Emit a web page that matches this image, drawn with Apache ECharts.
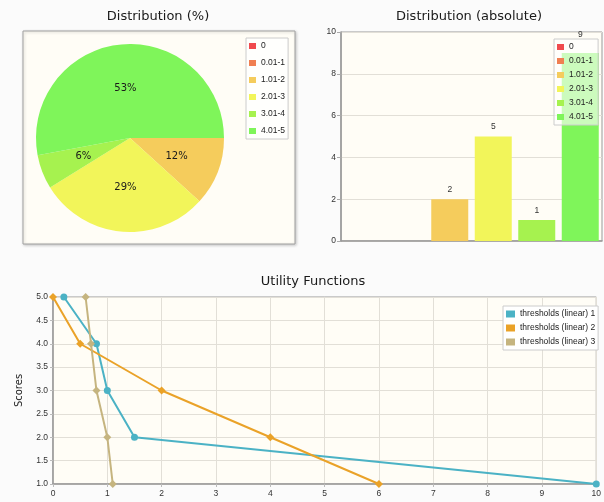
<!DOCTYPE html>
<html>
<head>
<meta charset="utf-8">
<script src="https://cdn.jsdelivr.net/npm/echarts@6/dist/echarts.min.js"></script>
<style>
html,body{margin:0;padding:0;background:#fbfbfb;}
#c{width:604px;height:502px;}
</style>
</head>
<body>
<div id="c"></div>
<script>
// ---- data ----
const categories = ['0', '0.01-1', '1.01-2', '2.01-3', '3.01-4', '4.01-5'];
const counts = [0, 0, 2, 5, 1, 9];
const yTicksAbs = [0, 2, 4, 6, 8, 10];
const utilityNames = ['thresholds (linear) 1', 'thresholds (linear) 2', 'thresholds (linear) 3'];
const utility1 = [[0.2, 5], [0.8, 4], [1.0, 3], [1.5, 2], [10, 1]];
const utility2 = [[0, 5], [0.5, 4], [2, 3], [4, 2], [6, 1]];
const utility3 = [[0.6, 5], [0.7, 4], [0.8, 3], [1.0, 2], [1.1, 1]];
const xTicksUtil = [0, 1, 2, 3, 4, 5, 6, 7, 8, 9, 10];
const yTicksUtil = [1.0, 1.5, 2.0, 2.5, 3.0, 3.5, 4.0, 4.5, 5.0];

// ---- styles ----
const palette = ['#f04a4e', '#f07f52', '#f5cc5c', '#f2f55a', '#a6f24f', '#7ff55a'];
const lineColors = ['#4bb2c5', '#eaa228', '#c5b47f'];
const lineSymbols = ['circle', 'diamond', 'diamond'];
const FONT = 'Liberation Sans, DejaVu Sans, sans-serif';
const TFONT = 'DejaVu Sans, sans-serif';
const gridBg = '#fffdf6';
const tickColor = '#333';

const chart = echarts.init(document.getElementById('c'), null, {renderer: 'canvas'});

const pieData = categories.map((name, i) => ({name, value: counts[i], itemStyle: {color: palette[i]}}));

const barSeries = categories.map((name, i) => ({
  type: 'bar',
  name,
  xAxisIndex: 0, yAxisIndex: 0,
  data: counts.map((v, j) => (j === i ? v : '-')),
  barWidth: 37,
  barGap: '-100%',
  itemStyle: {color: palette[i]},
  label: {
    show: true, position: 'top', distance: i === 5 ? 14 : 5,
    fontSize: 8.5, fontFamily: FONT, color: '#333',
    formatter: p => (p.value ? String(p.value) : '')
  },
  z: 2
}));

const utilData = [utility1, utility2, utility3];
const lineSeries = utilData.map((d, i) => ({
  type: 'line',
  name: utilityNames[i],
  xAxisIndex: 1, yAxisIndex: 1,
  data: d,
  symbol: lineSymbols[i],
  symbolSize: i === 0 ? 7 : 8,
  showAllSymbol: true,
  lineStyle: {width: 2, color: lineColors[i]},
  itemStyle: {color: lineColors[i]},
  clip: true,
  z: 3
}));

const legendCommon = {
  orient: 'vertical',
  icon: 'rect',
  backgroundColor: 'rgba(255,255,255,0.75)',
  borderColor: '#cccccc',
  borderWidth: 1,
  itemGap: 7,
  itemWidth: 7,
  itemHeight: 6,
  textStyle: {fontSize: 8.5, fontFamily: FONT, color: '#222', lineHeight: 10},
  selectedMode: false
};

const option = {
  animation: false,
  backgroundColor: '#fbfbfb',
  title: [
    {text: 'Distribution (%)', left: 158, top: 10, textAlign: 'center', padding: 0,
      textStyle: {fontSize: 13, fontWeight: 'normal', fontFamily: TFONT, color: '#1a1a1a'}},
    {text: 'Distribution (absolute)', left: 469, top: 10, textAlign: 'center', padding: 0,
      textStyle: {fontSize: 13, fontWeight: 'normal', fontFamily: TFONT, color: '#1a1a1a'}},
    {text: 'Utility Functions', left: 313, top: 275, textAlign: 'center', padding: 0,
      textStyle: {fontSize: 13, fontWeight: 'normal', fontFamily: TFONT, color: '#1a1a1a'}}
  ],
  graphic: [
    {type: 'rect', shape: {x: 23, y: 31, width: 272, height: 213}, z: -10,
      style: {fill: gridBg, stroke: '#a0a0a0', lineWidth: 1,
        shadowBlur: 3, shadowOffsetX: 1, shadowOffsetY: 1, shadowColor: 'rgba(0,0,0,0.2)'}}
  ],
  legend: [
    Object.assign({}, legendCommon, {data: categories, left: 246, top: 38, padding: [3, 3, 3, 3]}),
    Object.assign({}, legendCommon, {data: categories, left: 554, top: 39, itemGap: 4, padding: [3, 5, 3, 3],
      backgroundColor: 'rgba(255,255,255,0.6)'}),
    Object.assign({}, legendCommon, {data: utilityNames, left: 503, top: 306, itemGap: 4,
      itemWidth: 9, itemHeight: 7, padding: [3, 3, 3, 3], backgroundColor: '#ffffff',
      textStyle: {fontSize: 8.5, fontFamily: FONT, color: '#222', lineHeight: 10}})
  ],
  grid: [
    {left: 341, top: 32, width: 261, height: 209, show: true, backgroundColor: gridBg,
      borderColor: '#999', borderWidth: 1},
    {left: 53, top: 297, right: 1, bottom: 18, show: true, backgroundColor: gridBg,
      borderColor: '#999', borderWidth: 1}
  ],
  xAxis: [
    {type: 'category', gridIndex: 0, data: categories,
      axisLine: {show: true, lineStyle: {color: '#999', width: 1.5}},
      axisTick: {show: false}, axisLabel: {show: false}, splitLine: {show: false}},
    {type: 'value', gridIndex: 1, min: xTicksUtil[0], max: xTicksUtil[xTicksUtil.length - 1], interval: 1,
      axisLine: {show: true, lineStyle: {color: '#999', width: 1.5}},
      axisTick: {show: true, length: 3, lineStyle: {color: '#bbb'}},
      axisLabel: {fontSize: 8.5, fontFamily: FONT, color: tickColor, margin: 5},
      splitLine: {show: true, lineStyle: {color: '#e2dfd7'}}}
  ],
  yAxis: [
    {type: 'value', gridIndex: 0, min: yTicksAbs[0], max: yTicksAbs[yTicksAbs.length - 1], interval: 2,
      axisLine: {show: true, lineStyle: {color: '#999', width: 1.5}},
      axisTick: {show: true, length: 4, lineStyle: {color: '#aaa'}},
      axisLabel: {fontSize: 8.5, fontFamily: FONT, color: tickColor, margin: 5},
      splitLine: {show: true, lineStyle: {color: '#e2dfd7'}}},
    {type: 'value', gridIndex: 1, min: yTicksUtil[0], max: yTicksUtil[yTicksUtil.length - 1], interval: 0.5,
      name: 'Scores', nameLocation: 'middle', nameGap: 29, nameRotate: 90,
      nameTextStyle: {fontSize: 10, fontFamily: TFONT, color: '#1a1a1a'},
      axisLine: {show: true, lineStyle: {color: '#999', width: 1.5}},
      axisTick: {show: true, length: 3, lineStyle: {color: '#bbb'}},
      axisLabel: {fontSize: 8.5, fontFamily: FONT, color: tickColor, margin: 5, formatter: v => v.toFixed(1)},
      splitLine: {show: true, lineStyle: {color: '#e2dfd7'}}}
  ],
  series: [
    {
      type: 'pie',
      name: 'Distribution (%)',
      center: [130, 138],
      radius: 94,
      startAngle: 0,
      clockwise: true,
      percentPrecision: 2,
      data: pieData,
      itemStyle: {borderWidth: 0},
      label: {
        show: true, position: 'inner', fontSize: 10, fontFamily: TFONT, color: '#1a1a1a',
        formatter: p => (p.value ? Math.round(p.percent) + '%' : '')
      },
      labelLine: {show: false},
      emphasis: {disabled: true},
      z: 2
    }
  ].concat(barSeries, lineSeries)
};

chart.setOption(option);
</script>
</body>
</html>
